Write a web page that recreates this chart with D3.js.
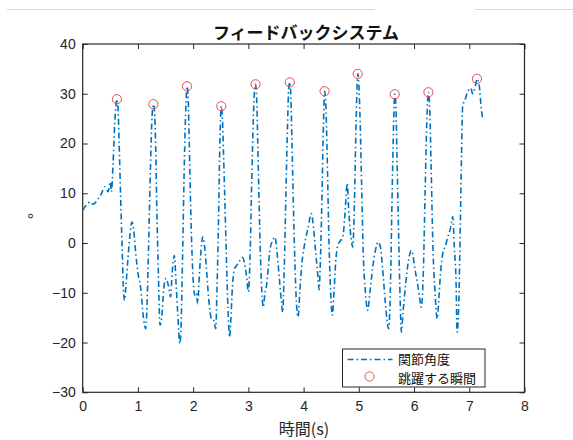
<!DOCTYPE html>
<html>
<head>
<meta charset="utf-8">
<script src="https://cdn.jsdelivr.net/npm/d3@7"></script>
<style>
  body { margin: 0; background: #fff; }
  svg { display: block; font-family: "Liberation Sans", Arial, "Noto Sans CJK JP", sans-serif; }
</style>
</head>
<body>
<div id="chart"></div>
<script>
// joint angle trace (time in s, angle in degrees)
var times = [
  0.00, 0.05, 0.10, 0.13, 0.18, 0.22, 0.27, 0.31, 0.36, 0.40, 0.44, 0.46, 0.50, 0.52, 0.55, 0.58, 0.60, 0.62, 0.64, 0.66,
  0.69, 0.72, 0.74, 0.76, 0.78, 0.82, 0.86, 0.89, 0.92, 0.96, 1.00, 1.05, 1.10, 1.14, 1.16, 1.19, 1.22, 1.25, 1.28, 1.30,
  1.32, 1.34, 1.37, 1.40, 1.43, 1.47, 1.51, 1.55, 1.59, 1.62, 1.66, 1.69, 1.72, 1.76, 1.78, 1.81, 1.84, 1.87, 1.89, 1.91,
  1.93, 1.96, 1.99, 2.03, 2.06, 2.08, 2.12, 2.15, 2.17, 2.20, 2.24, 2.28, 2.33, 2.37, 2.41, 2.43, 2.46, 2.48, 2.51, 2.53,
  2.55, 2.57, 2.60, 2.63, 2.66, 2.68, 2.71, 2.75, 2.79, 2.83, 2.89, 2.93, 2.97, 3.00, 3.03, 3.06, 3.09, 3.11, 3.13, 3.15,
  3.17, 3.19, 3.22, 3.25, 3.27, 3.30, 3.33, 3.36, 3.39, 3.44, 3.48, 3.52, 3.56, 3.60, 3.62, 3.65, 3.68, 3.71, 3.73, 3.75,
  3.77, 3.79, 3.81, 3.84, 3.87, 3.90, 3.93, 3.97, 4.02, 4.08, 4.14, 4.18, 4.22, 4.26, 4.28, 4.30, 4.33, 4.36, 4.38, 4.40,
  4.43, 4.46, 4.49, 4.52, 4.55, 4.58, 4.62, 4.67, 4.71, 4.75, 4.79, 4.82, 4.86, 4.89, 4.92, 4.95, 4.98, 5.00, 5.02, 5.05,
  5.08, 5.12, 5.16, 5.20, 5.25, 5.30, 5.35, 5.39, 5.43, 5.48, 5.54, 5.57, 5.60, 5.63, 5.65, 5.67, 5.69, 5.72, 5.75, 5.77,
  5.80, 5.85, 5.90, 5.95, 5.98, 6.01, 6.06, 6.10, 6.13, 6.17, 6.20, 6.23, 6.26, 6.28, 6.31, 6.34, 6.38, 6.42, 6.45, 6.48,
  6.52, 6.57, 6.61, 6.66, 6.70, 6.73, 6.76, 6.78, 6.81, 6.84, 6.86, 6.88, 6.93, 6.97, 7.03, 7.06, 7.08, 7.11, 7.14, 7.18,
  7.21, 7.24
];
var angles = [
  6.6, 7.4, 8.0, 8.3, 7.8, 8.0, 8.8, 9.3, 10.5, 11.3, 10.6, 10.3, 12.3, 10.3, 16.0, 24.0, 27.5, 28.9, 27.0, 20.0,
  8.0, -3.0, -10.0, -11.5, -9.0, -3.0, 2.0, 4.2, 3.0, -2.0, -6.0, -9.0, -15.0, -17.2, -14.0, -2.0, 12.0, 24.0, 27.9, 26.5,
  20.0, 8.0, -6.0, -16.5, -15.0, -9.0, -7.1, -8.5, -10.8, -6.0, -2.5, -8.0, -14.0, -20.2, -17.0, -2.0, 16.0, 28.0, 31.5, 29.0,
  20.0, 5.0, -5.0, -10.5, -10.0, -12.2, -5.0, -0.5, 1.2, 0.0, -5.0, -11.0, -15.2, -15.5, -17.2, -10.0, 5.0, 18.0, 27.5, 25.0,
  18.0, 10.0, -2.0, -13.0, -18.9, -16.0, -9.0, -5.1, -4.5, -3.8, -2.9, -4.0, -7.0, -9.8, -3.0, 12.0, 25.0, 30.5, 31.9, 29.0,
  20.0, 10.0, -3.0, -11.0, -12.9, -10.0, -8.5, -5.0, -1.4, 0.5, 1.2, -2.0, -7.0, -12.0, -13.9, -5.0, 10.0, 24.0, 31.0, 32.3,
  29.0, 20.0, 10.0, -3.0, -12.0, -14.9, -10.0, -4.0, -0.1, 3.0, 5.9, 3.0, -2.0, -6.8, -9.4, -5.0, 8.0, 24.0, 30.5, 28.5,
  16.0, 0.0, -10.0, -14.5, -10.0, -4.0, -0.4, 0.5, 1.2, 6.0, 12.0, 6.0, 1.0, -0.8, 8.0, 24.0, 34.0, 32.0, 26.0, 12.0,
  -2.0, -10.0, -13.5, -10.0, -5.0, -1.5, 0.2, -0.8, -5.0, -12.0, -17.2, -10.0, 8.0, 24.0, 29.9, 28.0, 18.0, 2.0, -12.0, -17.9,
  -14.0, -8.0, -3.5, -1.5, -2.5, -4.8, -8.0, -11.0, -12.9, -5.0, 10.0, 24.0, 30.3, 28.0, 15.0, 0.0, -10.0, -15.2, -11.0, -6.0,
  -2.1, -0.5, 1.2, 3.0, 5.3, -1.0, -7.5, -17.9, -12.0, 5.0, 18.0, 27.4, 29.0, 30.4, 31.1, 30.0, 30.4, 31.5, 33.0, 31.7,
  28.0, 25.0
];
// jump instants (detected peaks)
var peakTimes = [0.62, 1.28, 1.89, 2.51, 3.13, 3.75, 4.38, 4.98, 5.65, 6.26, 7.14];
var peakAngles = [28.9, 27.9, 31.5, 27.5, 31.9, 32.3, 30.5, 34.0, 29.9, 30.3, 33.0];

var xTicks = [0, 1, 2, 3, 4, 5, 6, 7, 8];
var yTicks = [-30, -20, -10, 0, 10, 20, 30, 40];

var chartTitle = "フィードバックシステム";
var xLabel = "時間(s)";
var yLabel = "°";
var legendLabels = ["関節角度", "跳躍する瞬間"];

var width = 573, height = 440;
var margin = {top: 44, right: 48.5, bottom: 47.7, left: 82.7};
var lineColor = "#0072BD";
var peakColor = "#ea4a52";
var axisColor = "#262626";

var svg = d3.select("#chart").append("svg")
  .attr("width", width)
  .attr("height", height);

svg.append("rect").attr("width", width).attr("height", height).attr("fill", "#fff");

// faint frame line from the screenshot
svg.append("line").attr("x1", 7).attr("x2", 375).attr("y1", 9.5).attr("y2", 9.5)
  .attr("stroke", "#d8d8d8").attr("stroke-width", 1);
svg.append("line").attr("x1", 475).attr("x2", 573).attr("y1", 9.5).attr("y2", 9.5)
  .attr("stroke", "#d8d8d8").attr("stroke-width", 1);

var x = d3.scaleLinear().domain([0, 8]).range([margin.left, width - margin.right]);
var y = d3.scaleLinear().domain([-30, 40]).range([height - margin.bottom, margin.top]);

var data = times.map(function (t, i) { return {t: t, v: angles[i]}; });
var peaks = peakTimes.map(function (t, i) { return {t: t, v: peakAngles[i]}; });

// axes, MATLAB style: inward ticks, box on
var xAxis = d3.axisBottom(x).tickValues(xTicks).tickSizeInner(-5).tickSizeOuter(0).tickPadding(9);
var yAxis = d3.axisLeft(y).tickValues(yTicks).tickSizeInner(-5).tickSizeOuter(0).tickPadding(7);

var gx = svg.append("g")
  .attr("transform", "translate(0," + (height - margin.bottom) + ")")
  .call(xAxis);
var gy = svg.append("g")
  .attr("transform", "translate(" + margin.left + ",0)")
  .call(yAxis);
svg.append("g")
  .attr("transform", "translate(0," + margin.top + ")")
  .call(d3.axisTop(x).tickValues(xTicks).tickSizeInner(-5).tickSizeOuter(0).tickFormat(""));
svg.append("g")
  .attr("transform", "translate(" + (width - margin.right) + ",0)")
  .call(d3.axisRight(y).tickValues(yTicks).tickSizeInner(-5).tickSizeOuter(0).tickFormat(""));

svg.selectAll(".domain").remove();
svg.selectAll(".tick line").attr("stroke", axisColor).attr("stroke-width", 1);
svg.selectAll(".tick text")
  .attr("fill", axisColor)
  .style("font-size", "14px")
  .style("font-family", "'Liberation Sans', Arial, sans-serif");

svg.append("rect")
  .attr("x", x(0)).attr("y", y(40))
  .attr("width", x(8) - x(0)).attr("height", y(-30) - y(40))
  .attr("fill", "none").attr("stroke", axisColor).attr("stroke-width", 1.2);

// joint angle line
var line = d3.line()
  .x(function (d) { return x(d.t); })
  .y(function (d) { return y(d.v); })
  .curve(d3.curveMonotoneX);

svg.append("path")
  .datum(data)
  .attr("d", line)
  .attr("fill", "none")
  .attr("stroke", lineColor)
  .attr("stroke-width", 1.6)
  .attr("stroke-dasharray", "6,3,1.5,3");

// jump markers
svg.append("g").selectAll("circle")
  .data(peaks)
  .enter().append("circle")
  .attr("cx", function (d) { return x(d.t); })
  .attr("cy", function (d) { return y(d.v); })
  .attr("r", 4.6)
  .attr("fill", "none")
  .attr("stroke", peakColor)
  .attr("stroke-width", 1);

// title and labels
svg.append("text")
  .attr("x", 306).attr("y", 39)
  .attr("text-anchor", "middle")
  .style("font-size", "17px").style("font-weight", "bold")
  .style("font-family", "'Noto Sans CJK JP', sans-serif")
  .attr("fill", "#111")
  .text(chartTitle);

svg.append("text")
  .attr("x", 304).attr("y", 435)
  .attr("text-anchor", "middle")
  .style("font-size", "16px")
  .style("font-family", "'Noto Sans CJK JP', sans-serif")
  .attr("fill", axisColor)
  .text(xLabel);

svg.append("text")
  .attr("transform", "translate(40,216) rotate(-90)")
  .attr("text-anchor", "middle")
  .style("font-size", "16px")
  .attr("fill", axisColor)
  .text(yLabel);

// legend
var lg = svg.append("g").attr("transform", "translate(342.5,349)");
lg.append("rect")
  .attr("width", 142.5).attr("height", 38)
  .attr("fill", "#fff").attr("stroke", axisColor).attr("stroke-width", 1);
lg.append("line")
  .attr("x1", 5).attr("x2", 50).attr("y1", 10.5).attr("y2", 10.5)
  .attr("stroke", lineColor).attr("stroke-width", 1.6)
  .attr("stroke-dasharray", "6,3,1.5,3");
lg.append("circle")
  .attr("cx", 27).attr("cy", 27.5).attr("r", 4.6)
  .attr("fill", "none").attr("stroke", peakColor).attr("stroke-width", 1);
lg.selectAll("text.lab")
  .data(legendLabels)
  .enter().append("text")
  .attr("class", "lab")
  .attr("x", 55.5)
  .attr("y", function (d, i) { return 14.5 + i * 19; })
  .style("font-size", "13px")
  .style("font-family", "'Noto Sans CJK JP', sans-serif")
  .attr("fill", "#111")
  .text(function (d) { return d; });
</script>
</body>
</html>
